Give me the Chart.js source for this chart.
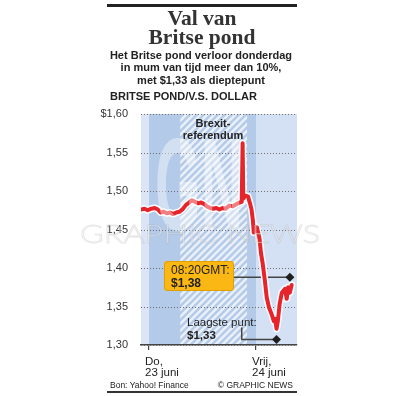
<!DOCTYPE html>
<html>
<head>
<meta charset="utf-8">
<script src="https://cdn.jsdelivr.net/npm/chart.js@4.4.1/dist/chart.umd.min.js"></script>
<style>
  html, body { margin: 0; padding: 0; background: #fff; }
  #wrap { position: relative; width: 404px; height: 396px; overflow: hidden;
          font-family: "Liberation Sans", Arial, sans-serif; color: #222; }
  #wrap canvas { position: absolute; left: 0; top: 0; }
  .t { position: absolute; white-space: nowrap; }
  .rule { position: absolute; left: 107px; width: 190px; background: #222; }
  .title { left: 107px; width: 190px; top: 9px; text-align: center; color: #333;
           font: bold 21.5px/18.5px "Liberation Serif", "Times New Roman", serif; }
  .sub { left: 104px; width: 194px; top: 48.5px; text-align: center;
         font-weight: bold; font-size: 11px; line-height: 12.5px; }
  .head { left: 110px; top: 89.5px; font-weight: bold; font-size: 11px; line-height: 13px; }
  .brexit { left: 173px; width: 80px; top: 118px; text-align: center;
            font-weight: bold; font-size: 11px; line-height: 11.5px; }
  .box { left: 164px; top: 261px; width: 62px; height: 26px; padding: 2px 0 0 6px;
         background: #fbb713; border: 1px solid #e0a000; border-radius: 3px;
         font-size: 12px; line-height: 12.5px; color: #222; }
  .low { left: 187px; top: 316px; font-size: 11.5px; line-height: 12.5px; color: #222; }
  .foot { top: 380px; font-size: 8.5px; line-height: 10px; color: #222; }
</style>
</head>
<body>
<div id="wrap">
  <canvas id="chart" width="404" height="396"></canvas>
  <div class="rule" style="top:4px;height:3px"></div>
  <div class="t title">Val van<br>Britse pond</div>
  <div class="t sub">Het Britse pond verloor donderdag<br>in mum van tijd meer dan 10%,<br>met $1,33 als dieptepunt</div>
  <div class="t head">BRITSE POND/V.S. DOLLAR</div>
  <div class="t brexit">Brexit-<br>referendum</div>
  <div class="t box">08:20GMT:<br><b>$1,38</b></div>
  <div class="t low">Laagste punt:<br><b>$1,33</b></div>
  <div class="t foot" style="left:110px">Bon: Yahoo! Finance</div>
  <div class="t foot" style="right:111px">&copy; GRAPHIC NEWS</div>
  <div class="rule" style="top:391px;height:1.5px;background:#333"></div>
</div>
<script>
// hours from Thursday 23 June 00:00, GBP/USD rate
var hours = [-1.8, -1.0, -0.3, 0.5, 1.3, 2.0, 2.6, 3.3, 4.0, 4.7, 5.4, 6.1, 6.8, 7.5,
  8.3, 9.0, 9.6, 10.3, 11.0, 11.7, 12.4, 13.0, 13.7, 14.4, 15.1, 15.8, 16.5, 17.2,
  18.0, 18.8, 19.6, 20.3, 20.8, 21.0, 21.15, 21.6, 22.2, 22.65, 23.0, 23.3, 23.5,
  23.8, 24.2, 24.8, 25.1, 25.5, 26.0, 26.4, 26.9, 27.5, 28.0, 28.3, 28.6, 28.9,
  29.3, 29.8, 30.5, 30.9, 31.2, 31.6, 32.0];
var rate = [1.476, 1.477, 1.475, 1.477, 1.478, 1.476, 1.472, 1.473, 1.471, 1.472, 1.470, 1.472, 1.473, 1.476,
  1.482, 1.485, 1.488, 1.486, 1.484, 1.485, 1.483, 1.480, 1.478, 1.477, 1.478, 1.476, 1.478, 1.477,
  1.481, 1.480, 1.483, 1.485, 1.486, 1.562, 1.490, 1.494, 1.493, 1.484, 1.476, 1.462, 1.446,
  1.452, 1.453, 1.438, 1.420, 1.406, 1.383, 1.362, 1.349, 1.340, 1.331, 1.334, 1.321, 1.331,
  1.353, 1.368, 1.373, 1.360, 1.375, 1.368, 1.378];

var xRange = [-1.8, 33.2];
var xTickValues = [0, 24];
var xTickLabels = [['Do,', '23 juni'], ['Vrij,', '24 juni']];
var yTickValues = [1.30, 1.35, 1.40, 1.45, 1.50, 1.55, 1.60];
var yTickLabels = ['1,30', '1,35', '1,40', '1,45', '1,50', '1,55', '$1,60'];
var dayBreaks = [0, 24];
var pollingHours = [7, 22];

// annotation markers: 08:20 GMT and lowest point
var markerHours = [31.6, 28.6];
var markerRates = [1.388, 1.307];
var connectorA = { h: [18.6, 31.6], r: [1.388, 1.388] };
var connectorB = { h: [20.8, 20.8, 28.6], r: [1.3226, 1.307, 1.307] };

function pts(xs, ys) {
  return xs.map(function (x, i) { return { x: x, y: ys[i] }; });
}

function hatchPattern(ctx) {
  var s = 7;
  var c = document.createElement('canvas');
  c.width = s; c.height = s;
  var p = c.getContext('2d');
  p.fillStyle = '#b4cae9';
  p.fillRect(0, 0, s, s);
  p.strokeStyle = '#eaf0f9';
  p.lineWidth = 2.6;
  p.beginPath();
  p.moveTo(0, s); p.lineTo(s, 0);
  p.moveTo(-1, 1); p.lineTo(1, -1);
  p.moveTo(s - 1, s + 1); p.lineTo(s + 1, s - 1);
  p.stroke();
  return ctx.createPattern(c, 'repeat');
}

var backdrop = {
  id: 'backdrop',
  beforeDraw: function (chart) {
    var ctx = chart.ctx, a = chart.chartArea, x = chart.scales.x;
    var d0 = x.getPixelForValue(dayBreaks[0]), d1 = x.getPixelForValue(dayBreaks[1]);
    var p0 = x.getPixelForValue(pollingHours[0]), p1 = x.getPixelForValue(pollingHours[1]);
    ctx.save();
    ctx.fillStyle = '#dbe5f5';
    ctx.fillRect(a.left, a.top, d0 - a.left, a.bottom - a.top);
    ctx.fillStyle = '#b4cae9';
    ctx.fillRect(d0, a.top, d1 - d0, a.bottom - a.top);
    ctx.fillStyle = '#d4e0f3';
    ctx.fillRect(d1, a.top, a.right - d1, a.bottom - a.top);
    ctx.fillStyle = hatchPattern(ctx);
    ctx.fillRect(p0, a.top, p1 - p0, a.bottom - a.top);
    ctx.restore();
  },
  // dotted horizontal grid on top of the bands
  beforeDatasetsDraw: function (chart) {
    var ctx = chart.ctx, a = chart.chartArea, y = chart.scales.y;
    ctx.save();
    ctx.strokeStyle = '#6f6f6f';
    ctx.lineWidth = 1;
    ctx.setLineDash([1, 2]);
    yTickValues.forEach(function (v) {
      var py = Math.round(y.getPixelForValue(v)) + 0.5;
      ctx.beginPath();
      ctx.moveTo(a.left, py);
      ctx.lineTo(a.right, py);
      ctx.stroke();
    });
    ctx.restore();
  }
};

var watermark = {
  id: 'watermark',
  afterDraw: function (chart) {
    var ctx = chart.ctx;
    ctx.save();
    // GN logo
    ctx.font = 'bold 60px "Liberation Sans"';
    var w = ctx.measureText('GN').width;
    ctx.translate(155, 230);
    ctx.scale(88 / w, 2.2);
    ctx.fillStyle = 'rgba(255,255,255,0.42)';
    ctx.fillText('GN', 0, 0);
    ctx.restore();
    ctx.save();
    ctx.font = '300 26px Lato';
    var w2 = ctx.measureText('GRAPHIC NEWS').width;
    ctx.translate(80, 243);
    ctx.scale(240 / w2, 1);
    ctx.fillStyle = 'rgba(255,255,255,0.45)';
    ctx.strokeStyle = 'rgba(150,150,150,0.25)';
    ctx.lineWidth = 0.8;
    ctx.fillText('GRAPHIC NEWS', 0, 0);
    ctx.strokeText('GRAPHIC NEWS', 0, 0);
    ctx.restore();
  }
};

new Chart(document.getElementById('chart'), {
  type: 'line',
  data: {
    datasets: [{
      type: 'scatter',
      data: pts(markerHours, markerRates),
      pointStyle: 'rectRot',
      pointRadius: 4.5,
      backgroundColor: '#1e1e1e',
      borderColor: '#1e1e1e',
      borderWidth: 0,
      order: 0
    }, {
      data: pts(hours, rate),
      borderColor: '#e6242b',
      borderWidth: 4,
      borderJoinStyle: 'round',
      borderCapStyle: 'round',
      pointRadius: 0,
      tension: 0,
      order: 1
    }, {
      data: pts(hours, rate),
      borderColor: '#ffffff',
      borderWidth: 7,
      borderJoinStyle: 'round',
      borderCapStyle: 'round',
      pointRadius: 0,
      tension: 0,
      order: 2
    }, {
      data: pts(connectorA.h, connectorA.r),
      borderColor: '#444',
      borderWidth: 1.5,
      pointRadius: 0,
      order: 3
    }, {
      data: pts(connectorB.h, connectorB.r),
      borderColor: '#444',
      borderWidth: 1.5,
      pointRadius: 0,
      order: 3
    }]
  },
  options: {
    responsive: false,
    animation: false,
    events: [],
    layout: { padding: { top: 114, right: 107, bottom: 11, left: 0 } },
    plugins: { legend: { display: false }, tooltip: { enabled: false } },
    scales: {
      x: {
        type: 'linear',
        min: xRange[0],
        max: xRange[1],
        afterBuildTicks: function (s) { s.ticks = xTickValues.map(function (v) { return { value: v }; }); },
        afterFit: function (s) { s.height = 40; },
        grid: { drawOnChartArea: false, drawTicks: true, tickLength: 5, color: '#444', lineWidth: 1.2 },
        border: { display: true, color: '#444', width: 1.5 },
        ticks: {
          autoSkip: false, maxRotation: 0, align: 'start', padding: 6, labelOffset: -4,
          color: '#222', font: { family: '"Liberation Sans", Arial', size: 11.5, lineHeight: 1.0 },
          callback: function (v, i) { return xTickLabels[i]; }
        }
      },
      y: {
        min: 1.30,
        max: 1.60,
        afterBuildTicks: function (s) { s.ticks = yTickValues.map(function (v) { return { value: v }; }); },
        afterFit: function (s) { s.width = 141; },
        grid: { display: false },
        border: { display: false },
        ticks: {
          padding: 5, color: '#333',
          font: { family: '"Liberation Sans", Arial', size: 11 },
          callback: function (v, i) { return yTickLabels[i]; }
        }
      }
    }
  },
  plugins: [backdrop, watermark]
});
</script>
</body>
</html>
